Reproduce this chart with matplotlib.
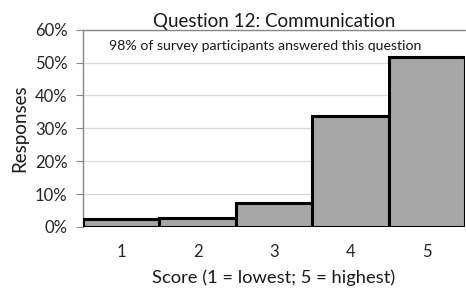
import matplotlib
matplotlib.use("Agg")
import matplotlib.pyplot as plt
from matplotlib.ticker import PercentFormatter

scores = ["1", "2", "3", "4", "5"]
responses = [2.4, 2.8, 7.3, 33.6, 51.6]
y_ticks = [0, 10, 20, 30, 40, 50, 60]
title = "Question 12: Communication"
note = "98% of survey participants answered this question"

plt.rcParams["font.family"] = ["Lato", "DejaVu Sans"]

fig = plt.figure(figsize=(4.66, 2.91), dpi=100)
ax = fig.add_axes([0.178, 0.22, 0.82, 0.678])

x = list(range(len(scores)))
ax.bar(x, responses, width=1.0, color="#a6a6a6", edgecolor="black", linewidth=2.2, zorder=3)
ax.set_xlim(-0.5, len(scores) - 0.5)
ax.set_ylim(0, 60)
ax.set_yticks(y_ticks)
ax.yaxis.set_major_formatter(PercentFormatter(decimals=0))
ax.set_xticks(x)
ax.set_xticklabels(scores)
ax.grid(axis="y", color="#d9d9d9", linewidth=0.9, zorder=0)
ax.tick_params(axis="x", length=0, pad=12, labelsize=12, colors="#262626")
ax.tick_params(axis="y", length=5, color="#888888", labelsize=12, colors="#262626", pad=6)
for side in ("left", "top"):
    ax.spines[side].set_color("#888888")
    ax.spines[side].set_linewidth(1.0)
ax.spines["right"].set_visible(False)
ax.spines["bottom"].set_visible(False)

ax.set_title(title, fontsize=13.5, pad=2, color="#1a1a1a")
ax.set_xlabel("Score (1 = lowest; 5 = highest)", fontsize=13.2, labelpad=7, color="#1a1a1a")
ax.set_ylabel("Responses", fontsize=13.5, labelpad=5, color="#1a1a1a")
ax.text(0.476, 0.915, note, transform=ax.transAxes, ha="center", va="center",
        fontsize=10.2, color="#1a1a1a", zorder=4)

fig.savefig("out.png", dpi=100)
